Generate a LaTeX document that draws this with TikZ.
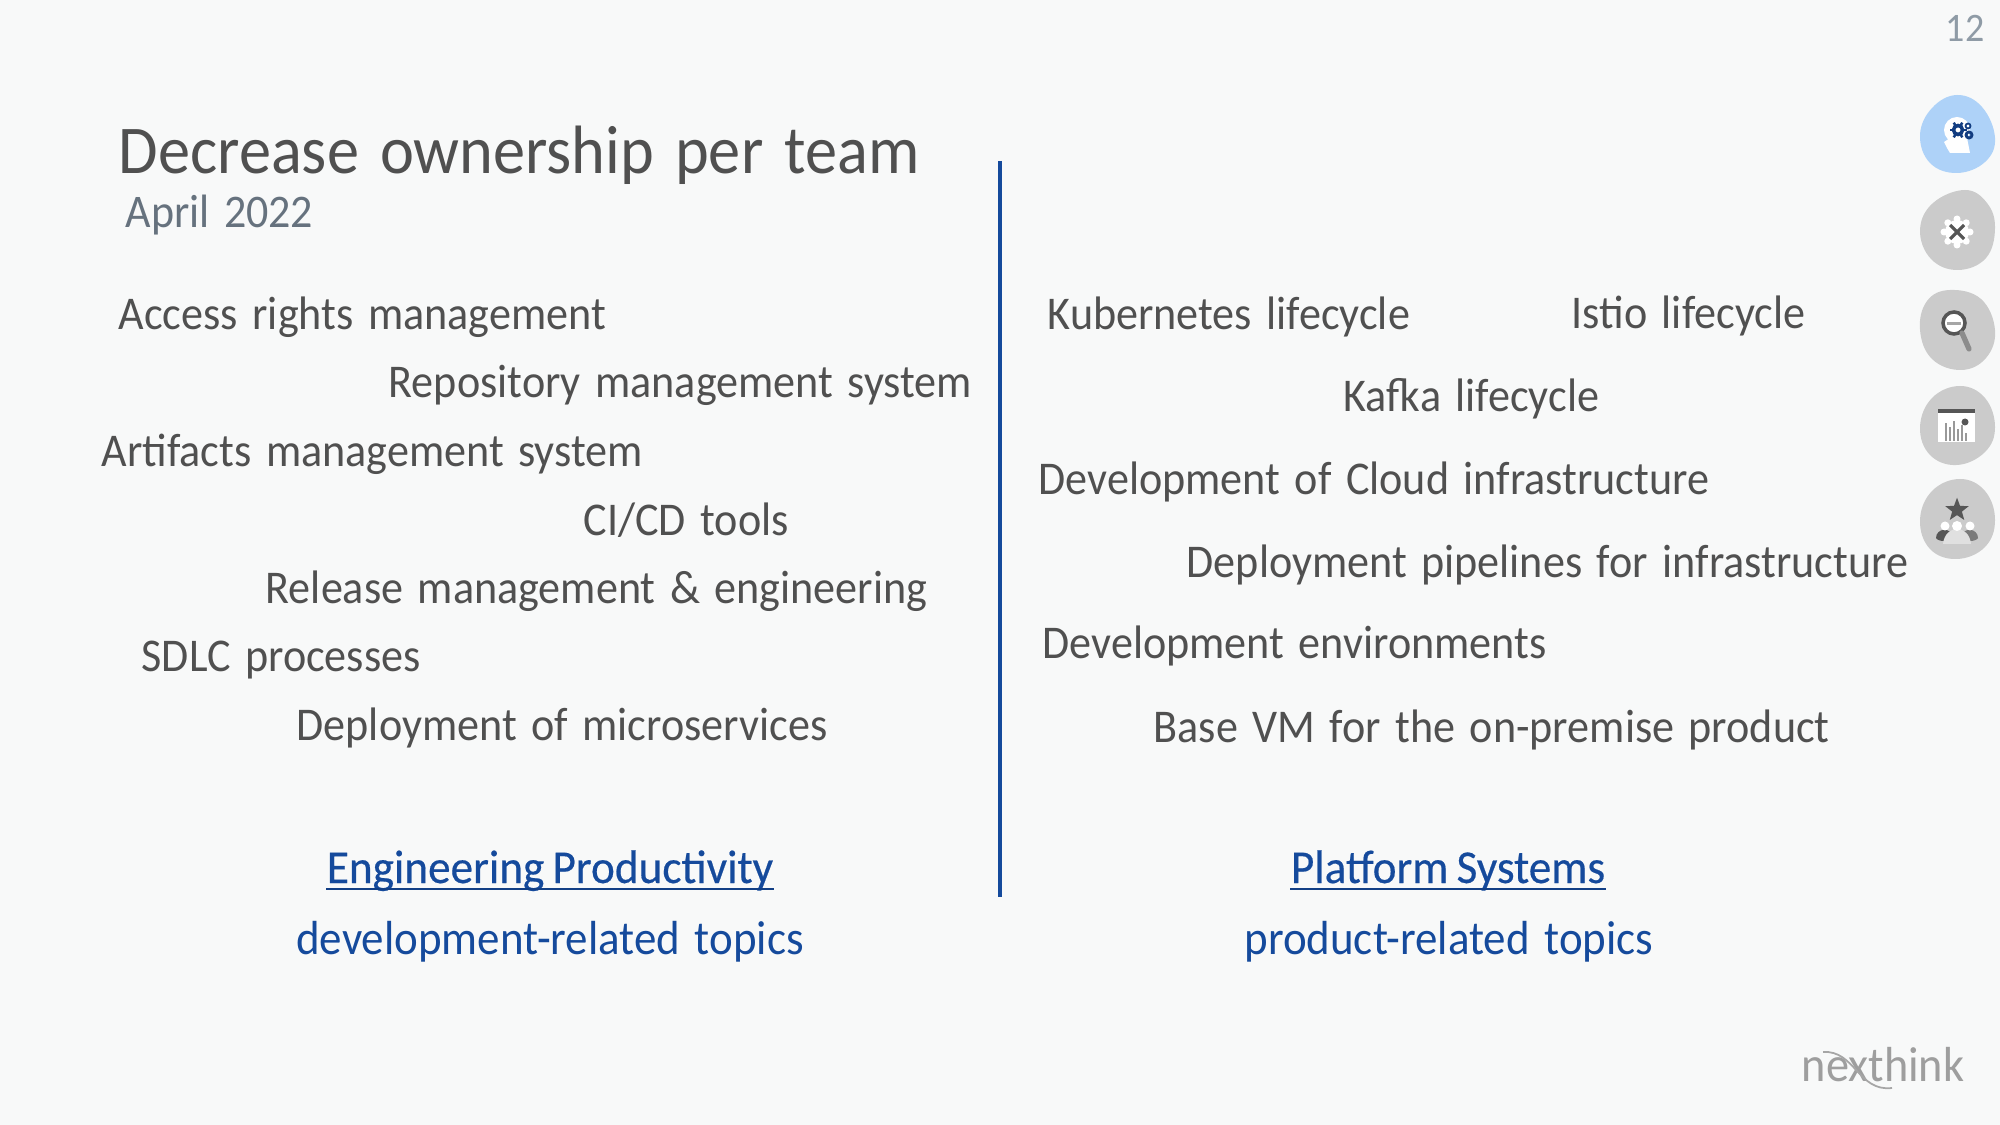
\documentclass[tikz,border=0pt]{standalone}
\usepackage{fontspec}
\setmainfont[FakeStretch=0.94,WordSpace=1.45]{Carlito}
\newfontfamily\teamfont[FakeStretch=0.96,WordSpace=0.8,FakeBold=0.4]{Carlito}
\usetikzlibrary{shapes.geometric}
\definecolor{slidebg}{HTML}{F8F9F9}
\definecolor{topicgray}{HTML}{505050}
\definecolor{linkblue}{HTML}{154A9C}
\definecolor{datecolor}{HTML}{66727E}
\definecolor{pagecolor}{HTML}{8F9BA6}
\definecolor{blobblue}{HTML}{AED2F8}
\definecolor{blobgray}{HTML}{CBCBCB}
\definecolor{icondark}{HTML}{565656}
\definecolor{navyicon}{HTML}{123C80}
\tikzset{
	% Text styles: items of both columns and the two team headings
	topic node/.style={anchor=base west,inner sep=0,text=topicgray,font=\fontsize{13.35}{16}\selectfont},
	team node/.style={anchor=base,inner sep=0,text=linkblue,font=\fontsize{13.6}{16}\selectfont},
	team head/.style={team node,font=\teamfont\fontsize{13.4}{16}\selectfont},
	team rule/.style={linkblue!85!black,line width=0.6pt},
	blob/.style={smooth cycle,tension=0.68}
}
\begin{document}
\begin{tikzpicture}[x=0.01cm,y=-0.01cm]
	% macro for inputing column items
	\newcommand{\topic}[3]{\node(#1)[topic node]at(#2){#3};}
	\fill[slidebg](0,0)rectangle(2000,1125);
	\useasboundingbox(0,0)rectangle(2000,1125);

	\node(title)[anchor=base west,inner sep=0,text=topicgray,font=\fontsize{19.45}{24}\selectfont]at(118,174){Decrease ownership per team};
	\node(date)[anchor=base west,inner sep=0,text=datecolor,font=\fontsize{13.3}{16}\selectfont]at(125,228){April 2022};
	\node(page)[anchor=base east,inner sep=0,text=pagecolor,font=\fontsize{11.5}{14}\selectfont]at(1985,42){12};

	% Left column
	\topic{access}{118,330}{Access rights management}
	\topic{repository}{388,398}{Repository management system}
	\topic{artifacts}{101,467}{Artifacts management system}
	\topic{cicd}{583,536}{CI/CD tools}
	\topic{release}{265,604}{Release management \& engineering}
	\topic{sdlc}{141,672}{SDLC processes}
	\topic{microservices}{296,741}{Deployment of microservices}

	% Right column
	\topic{kubernetes}{1047,330}{Kubernetes lifecycle}
	\topic{istio}{1571,329}{Istio lifecycle}
	\topic{kafka}{1343,412}{Kafka lifecycle}
	\topic{cloud}{1038,495}{Development of Cloud infrastructure}
	\topic{pipelines}{1186,578}{Deployment pipelines for infrastructure}
	\topic{environments}{1042,659}{Development environments}
	\topic{basevm}{1153,742}{Base VM for the on-premise product}

	% Divider between the columns
	\coordinate(divider top)at(1000,161);
	\coordinate(divider bottom)at(1000,897);
	\draw[linkblue,line width=0.9pt](divider top)--(divider bottom);

	\node(engineering)[team head]at(550,883){Engineering Productivity};
	\draw[team rule]([yshift=-0.06cm]engineering.base west)--([yshift=-0.06cm]engineering.base east);
	\node(development)[team node]at(550,954){development-related topics};
	\node(platform)[team head]at(1448,883){Platform Systems};
	\draw[team rule]([yshift=-0.06cm]platform.base west)--([yshift=-0.06cm]platform.base east);
	\node(product)[team node]at(1449,954){product-related topics};

	% Logo
	\node(logo)[anchor=base west,inner sep=0,text=black!38,font=\fontsize{14}{16}\selectfont]at(1801,1081){nexthink};
	\draw[black!35,line width=0.5pt](1823,1052)..controls(1855,1050)and(1858,1092)..(1892,1088);

	% Blobs down the right edge
	\fill[blobblue]plot[blob]coordinates{(1957,95)(1982,107)(1995,138)(1985,162)(1957,173)(1930,163)(1920,135)(1932,108)};
	\fill[blobgray]plot[blob]coordinates{(1965,190)(1987,203)(1995,228)(1986,258)(1958,270)(1931,259)(1920,230)(1933,203)};
	\fill[blobgray]plot[blob]coordinates{(1950,290)(1981,299)(1995,330)(1986,358)(1961,370)(1932,359)(1920,330)(1927,301)};
	\fill[blobgray]plot[blob]coordinates{(1960,386)(1985,398)(1995,427)(1985,452)(1957,465)(1930,455)(1920,427)(1932,398)};
	\fill[blobgray]plot[blob]coordinates{(1960,479)(1985,491)(1995,520)(1985,547)(1957,559)(1930,549)(1920,520)(1932,491)};

	% Head with gears
	\fill[white](1957,130)circle(13);
	\fill[white](1950,138)--(1944,142)--(1947,148)--(1950,153)--(1970,153)--(1967,138)--cycle;
	\draw[navyicon,line width=1pt](1958,130)circle(4.5);
	\foreach \a in {0,60,...,300}{\draw[navyicon,line width=0.7pt](1958,130)++(\a:5)--++(\a:3.5);}
	\draw[navyicon,line width=0.5pt](1968,126)circle(2.5);
	\draw[navyicon,line width=0.8pt](1969,135)circle(3);

	% Wrench in a cog
	\fill[white](1957,232)circle(12);
	\foreach \a in {0,45,...,315}{\fill[white](1957,232)++(\a:13)circle(3.5);}
	\draw[icondark,line width=0.9pt](1950,225)--(1964,239);
	\draw[icondark,line width=0.9pt](1964,225)--(1950,239);

	% Magnifier
	\draw[icondark,fill=white,line width=1pt](1954,323)circle(11);
	\fill[black!35](1947,322)rectangle(1961,325);
	\draw[black!45,line width=1.5pt,line cap=round](1962,333)--(1969,349);

	% Chart
	\fill[white](1938,412)rectangle(1975,442);
	\draw[icondark,line width=0.9pt](1938,411)--(1975,411);
	\foreach \x/\h in {1946/18,1950/14,1954/20,1958/12,1962/16,1966/8}{\draw[black!40,line width=0.7pt](\x,441)--(\x,441-\h);}
	\fill[icondark](1965,422)circle(3.5);

	% Team with star
	\node(star)[star,star points=5,star point ratio=2.4,fill=icondark,inner sep=0,minimum size=7pt]at(1957,510){};
	\fill[icondark](1936,538)..controls(1936,528)and(1952,526)..(1952,538)..controls(1950,542)and(1938,542)..(1936,538);
	\fill[black!52](1962,538)..controls(1962,526)and(1978,528)..(1978,538)..controls(1976,542)and(1964,542)..(1962,538);
	\fill[black!12](1943,544)..controls(1945,524)and(1969,524)..(1971,544)--cycle;
	\fill[white](1945,526)circle(4.5);
	\fill[white](1957,526)circle(5);
	\fill[white](1970,526)circle(4.5);
\end{tikzpicture}
\end{document}
